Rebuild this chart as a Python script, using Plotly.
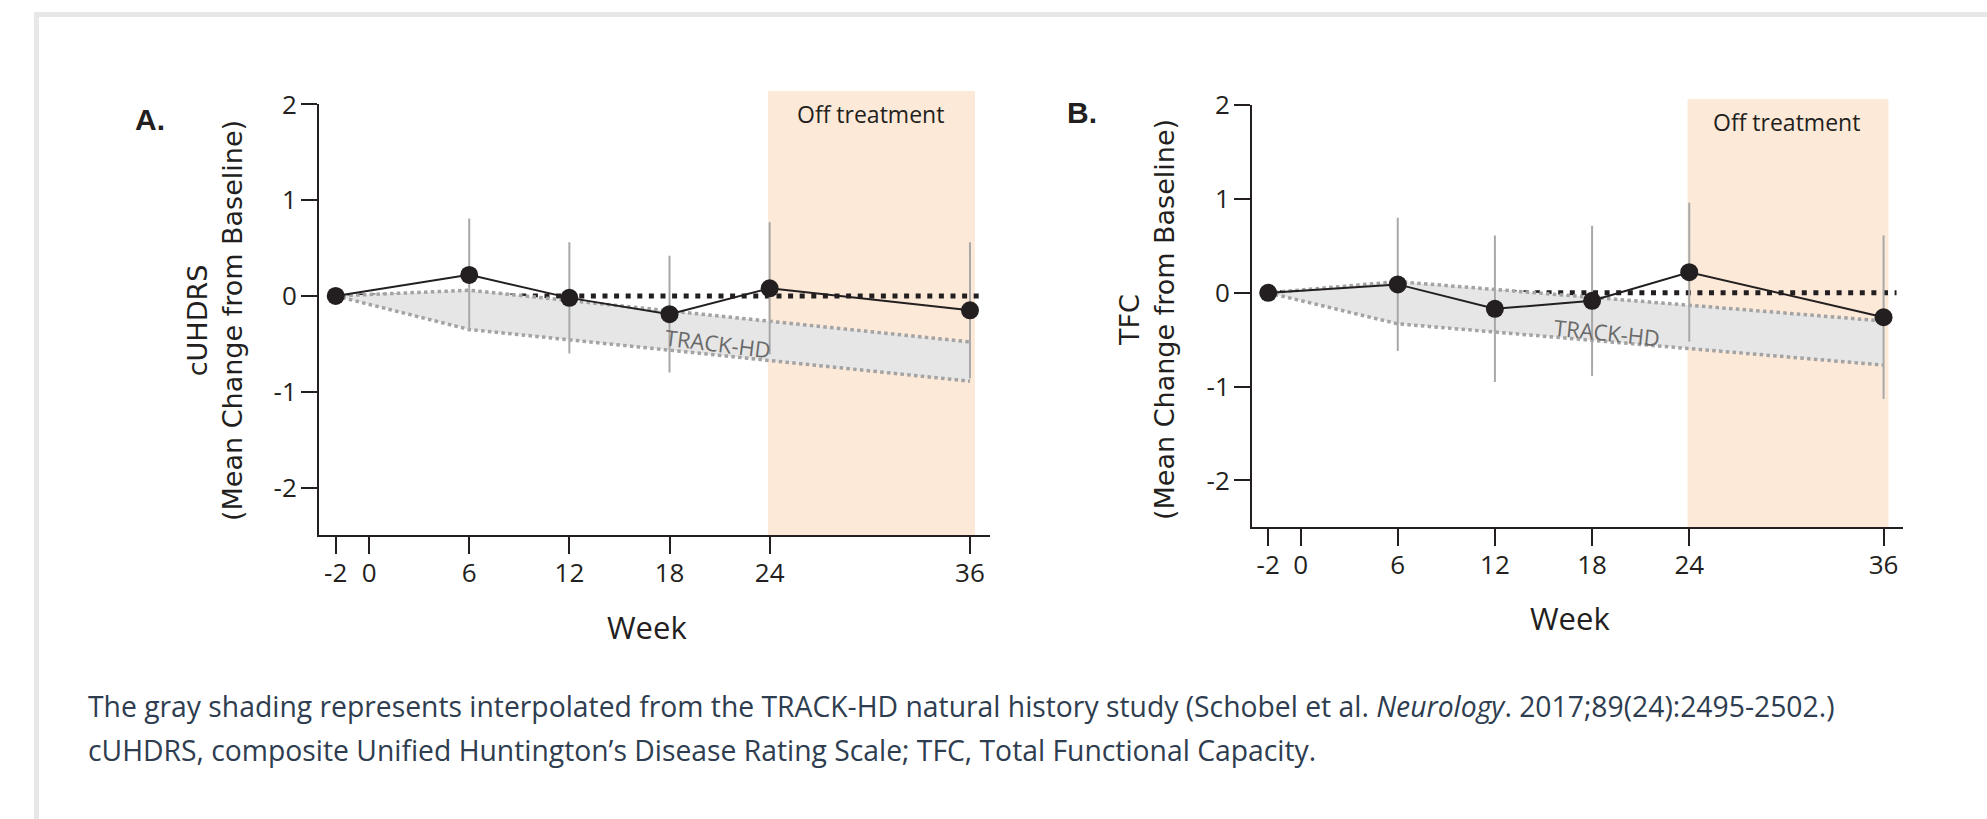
import plotly.graph_objects as go

# ---------------- data ----------------
weeks = [-2, 6, 12, 18, 24, 36]
tick_weeks = [-2, 0, 6, 12, 18, 24, 36]
y_ticks = [-2, -1, 0, 1, 2]

cuhdrs_mean = [0.0, 0.22, -0.02, -0.19, 0.08, -0.15]
cuhdrs_err = [0.0, 0.59, 0.58, 0.61, 0.69, 0.71]

tfc_mean = [0.0, 0.09, -0.17, -0.085, 0.22, -0.26]
tfc_err = [0.0, 0.71, 0.78, 0.80, 0.74, 0.87]

band_weeks = [-2, 6, 36]
track_a_upper = [0.0, 0.06, -0.48]
track_a_lower = [0.0, -0.35, -0.89]
track_b_upper = [0.0, 0.12, -0.30]
track_b_lower = [0.0, -0.33, -0.77]

ref_weeks = [-2, 36.8]
ref_values = [0, 0]

off_start = 23.9
off_end = 36.3

W, H = 1987, 819

INK = "#231f20"
BAND_FILL = "#e6e6e6"
BAND_LINE = "#a3a3a3"
ERR = "#a8a8a8"
PEACH = "#fde9d8"


def px(x):
    return x / W


def py(y):
    return 1 - y / H


fig = go.Figure()


def add_panel(xa, ya, mean, err, upper, lower):
    # zero reference dotted line (underneath band)
    fig.add_trace(go.Scatter(x=ref_weeks, y=ref_values, mode="lines",
                             line=dict(color=INK, width=5, dash="5px,6.6px"),
                             xaxis=xa, yaxis=ya, hoverinfo="skip", showlegend=False))
    # band polygon
    fig.add_trace(go.Scatter(x=band_weeks + band_weeks[::-1], y=upper + lower[::-1],
                             mode="lines", fill="toself", fillcolor=BAND_FILL,
                             line=dict(width=0, color=BAND_FILL),
                             xaxis=xa, yaxis=ya, hoverinfo="skip", showlegend=False))
    for b in (upper, lower):
        fig.add_trace(go.Scatter(x=band_weeks, y=b, mode="lines",
                                 line=dict(color=BAND_LINE, width=3.5, dash="3.5px,3.3px"),
                                 xaxis=xa, yaxis=ya, hoverinfo="skip", showlegend=False))
    # error bars
    fig.add_trace(go.Scatter(x=weeks, y=mean, mode="markers",
                             marker=dict(size=1, color="rgba(0,0,0,0)"),
                             error_y=dict(type="data", array=err, visible=True,
                                          color=ERR, thickness=2, width=0),
                             xaxis=xa, yaxis=ya, hoverinfo="skip", showlegend=False))
    # mean line + markers
    fig.add_trace(go.Scatter(x=weeks, y=mean, mode="lines+markers",
                             line=dict(color=INK, width=2),
                             marker=dict(size=18, color=INK),
                             xaxis=xa, yaxis=ya, showlegend=False))


add_panel("x", "y", cuhdrs_mean, cuhdrs_err, track_a_upper, track_a_lower)
add_panel("x2", "y2", tfc_mean, tfc_err, track_b_upper, track_b_lower)

tick_font = dict(family="Open Sans", size=26, color=INK)
xcommon = dict(range=[-3, 37.2], tickvals=tick_weeks, ticktext=[str(t) for t in tick_weeks],
               showline=True, linecolor=INK, linewidth=2, ticks="outside", ticklen=17,
               tickwidth=2, tickcolor=INK, showgrid=False, zeroline=False,
               tickfont=tick_font, ticklabelstandoff=-4, automargin=False)
ycommon = dict(range=[-2.5, 2.0], tickvals=y_ticks, ticktext=[str(t) for t in y_ticks],
               showline=True, linecolor=INK, linewidth=2, ticks="outside", ticklen=16,
               tickwidth=2, tickcolor=INK, showgrid=False, zeroline=False,
               tickfont=tick_font, ticklabelstandoff=-1, automargin=False)

layout_axes = dict(
    xaxis=dict(domain=[px(319), px(990)], anchor="y", **xcommon),
    yaxis=dict(domain=[py(535.4), py(104.4)], anchor="x", **ycommon),
    xaxis2=dict(domain=[px(1252), px(1903)], anchor="y2", **xcommon),
    yaxis2=dict(domain=[py(527.4), py(105.2)], anchor="x2", **ycommon),
)

shapes = [
    # page frame
    dict(type="rect", xref="paper", yref="paper", x0=px(34), x1=1, y0=py(17), y1=py(12),
         fillcolor="#e7e7e7", line=dict(width=0), layer="below"),
    dict(type="rect", xref="paper", yref="paper", x0=px(34), x1=px(39), y0=0, y1=py(12),
         fillcolor="#e7e7e7", line=dict(width=0), layer="below"),
    # off treatment regions
    dict(type="rect", xref="x", yref="paper", x0=off_start, x1=off_end,
         y0=py(535.4), y1=py(91), fillcolor=PEACH, line=dict(width=0), layer="below"),
    dict(type="rect", xref="x2", yref="paper", x0=off_start, x1=off_end,
         y0=py(527.4), y1=py(99), fillcolor=PEACH, line=dict(width=0), layer="below"),
]

title_font = dict(family="DejaVu Sans", size=27, color=INK)
anns = [
    dict(text="<b>A.</b>", x=px(150), y=py(119), font=dict(family="Liberation Sans", size=30, color=INK)),
    dict(text="<b>B.</b>", x=px(1082), y=py(113), font=dict(family="Liberation Sans", size=30, color=INK)),
    dict(text="cUHDRS<br>(Mean Change from Baseline)", x=px(215), y=py(321), textangle=-90,
         font=title_font),
    dict(text="TFC<br>(Mean Change from Baseline)", x=px(1147), y=py(320), textangle=-90,
         font=title_font),
    dict(text="Week", x=px(647), y=py(627), font=dict(family="Open Sans", size=31, color=INK)),
    dict(text="Week", x=px(1570), y=py(618), font=dict(family="Open Sans", size=31, color=INK)),
    dict(text="Off treatment", x=px(870), y=py(114), font=dict(family="Open Sans", size=23, color=INK)),
    dict(text="Off treatment", x=px(1786), y=py(122), font=dict(family="Open Sans", size=23, color=INK)),
    dict(text="TRACK-HD", x=20.9, y=-0.49, xref="x", yref="y", textangle=7,
         font=dict(family="Open Sans", size=22, color="#6a6a6a")),
    dict(text="TRACK-HD", x=18.9, y=-0.42, xref="x2", yref="y2", textangle=6,
         font=dict(family="Open Sans", size=22, color="#6a6a6a")),
    dict(text="The gray shading represents interpolated from the TRACK-HD natural history study "
              "(Schobel et al. <i>Neurology</i>. 2017;89(24):2495-2502.)",
         x=px(86), y=py(706), xanchor="left",
         font=dict(family="Open Sans", size=28.3, color="#2e3d4f")),
    dict(text="cUHDRS, composite Unified Huntington’s Disease Rating Scale; TFC, Total Functional Capacity.",
         x=px(86), y=py(750), xanchor="left",
         font=dict(family="Open Sans", size=28.3, color="#2e3d4f")),
]
for a in anns:
    a.setdefault("xref", "paper")
    a.setdefault("yref", "paper")
    a.setdefault("xanchor", "center")
    a.setdefault("yanchor", "middle")
    a["showarrow"] = False

fig.update_layout(
    width=W, height=H, margin=dict(l=0, r=0, t=0, b=0, autoexpand=False),
    paper_bgcolor="white", plot_bgcolor="rgba(0,0,0,0)",
    shapes=shapes, annotations=anns, showlegend=False,
    **layout_axes,
)

fig.write_html("out.html", config={"displayModeBar": False})
